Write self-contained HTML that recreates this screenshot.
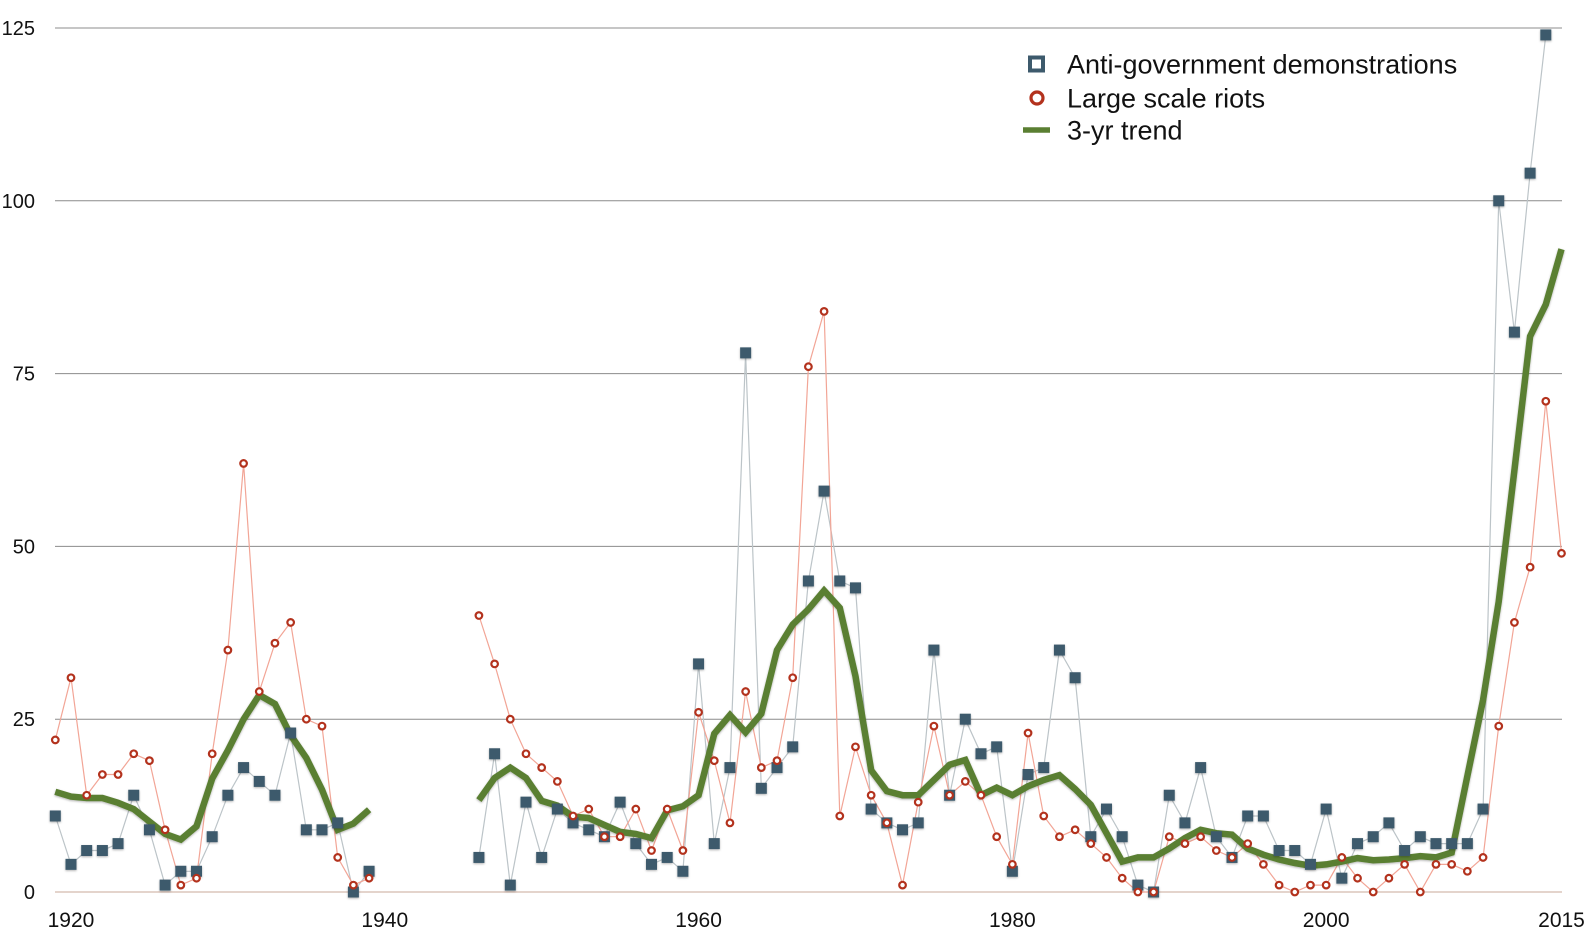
<!DOCTYPE html>
<html><head><meta charset="utf-8"><style>
html,body{margin:0;padding:0;background:#fff;}
svg{display:block;font-family:"Liberation Sans",Arial,sans-serif;}
</style></head><body>
<svg id="chart" width="1590" height="933" viewBox="0 0 1590 933" xmlns="http://www.w3.org/2000/svg">
<defs>
<filter id="sh" x="-50%" y="-50%" width="200%" height="200%"><feDropShadow dx="0" dy="1" stdDeviation="1" flood-color="#000" flood-opacity="0.3"/></filter>
</defs>
<g id="grid"></g>
<g id="ylabels"></g>
<g id="xlabels"></g>
<g id="series"></g>
<g id="legend">
  <g>
    <rect x="1030" y="57.5" width="13" height="13" fill="#fff" stroke="#3d5a6c" stroke-width="4"/>
    <text x="1067" y="73.5" font-size="27" fill="#111">Anti-government demonstrations</text>
  </g>
  <g>
    <circle cx="1037" cy="98" r="6" fill="#fff" stroke="#b3321d" stroke-width="3.2"/>
    <text x="1067" y="107.5" font-size="27" fill="#111">Large scale riots</text>
  </g>
  <g>
    <line x1="1023" y1="130" x2="1050" y2="130" stroke="#5a7f32" stroke-width="5.5"/>
    <text x="1067" y="139.5" font-size="27" fill="#111">3-yr trend</text>
  </g>
</g>
</svg>
<script>
const startYear = 1919;
const demonstrations = [11,4,6,6,7,14,9,1,3,3,8,14,18,16,14,23,9,9,10,0,3,
 null,null,null,null,null,null,
 5,20,1,13,5,12,10,9,8,13,7,4,5,3,33,7,18,78,
 15,18,21,45,58,45,44,12,10,9,
 10,35,14,25,20,21,3,17,18,35,31,8,12,8,1,
 0,14,10,18,8,5,11,11,6,6,4,12,2,7,8,10,6,8,7,7,
 7,12,100,81,104,124,null];
const riots = [22,31,14,17,17,20,19,9,1,2,20,35,62,29,36,39,25,24,5,1,2,
 null,null,null,null,null,null,
 40,33,25,20,18,16,11,12,8,8,12,6,12,6,26,19,10,29,
 18,19,31,76,84,11,21,14,10,1,
 13,24,14,16,14,8,4,23,11,8,9,7,5,2,0,
 0,8,7,8,6,5,7,4,1,0,1,1,5,2,0,2,4,0,4,4,
 3,5,24,39,47,71,49];
const trend = [14.5,13.8,13.6,13.6,12.9,12,10.2,8.4,7.6,9.5,16.4,20.5,25,28.5,27.2,22.7,19.4,14.8,9,9.9,11.9,
 null,null,null,null,null,null,
 13.3,16.5,18,16.5,13.2,12.5,10.9,10.7,9.7,8.7,8.4,7.8,11.8,12.4,14,22.9,25.6,23.1,
 25.8,35,38.7,40.9,43.6,41.1,31.2,17.6,14.6,14,
 14,16.2,18.4,19.1,14,15.1,14,15.3,16.2,16.9,14.9,12.6,8.5,4.4,5,
 5,6.3,7.8,9,8.5,8.3,6.3,5.4,4.7,4.2,3.8,4,4.4,4.9,4.6,4.7,4.9,5.2,5,5.7,
 16.8,27.8,42,61,80.4,85,93];
const yTicks = [0,25,50,75,100,125];
const xTicks = [1920,1940,1960,1980,2000,2015];

const NS = "http://www.w3.org/2000/svg";
const X0 = 55.3, X1 = 1561.5, Y0 = 892, Y1 = 28;
const endYear = startYear + demonstrations.length - 1;
function xs(yr){ return X0 + (yr - startYear) * (X1 - X0) / (endYear - startYear); }
function ys(v){ return Y0 - v * (Y0 - Y1) / 125; }
function mk(tag, attrs, parent){ const e = document.createElementNS(NS, tag); for (const k in attrs) e.setAttribute(k, attrs[k]); parent.appendChild(e); return e; }

const grid = document.getElementById('grid');
const yl = document.getElementById('ylabels');
yTicks.forEach(t => {
  const l = mk('line', {x1:55, x2:1562, y1:ys(t), y2:ys(t), stroke: t===0 ? '#c9a899' : '#8c8c8c', 'stroke-width':1}, grid);
  
  
  const tx = mk('text', {x:35, y:ys(t)+7, 'font-size':20, 'text-anchor':'end', fill:'#111'}, yl);
  tx.textContent = t;
  
  
});
const xl = document.getElementById('xlabels');
xTicks.forEach(t => {
  const tx = mk('text', {x:xs(t), y:927, 'font-size':21, 'text-anchor':'middle', fill:'#111'}, xl);
  tx.textContent = t;
  
  
});

function pathFor(arr){
  let d = '', pen = false;
  arr.forEach((v,i) => {
    if (v === null) { pen = false; return; }
    d += (pen ? 'L' : 'M') + xs(startYear+i).toFixed(1) + ' ' + ys(v).toFixed(1);
    pen = true;
  });
  return d;
}
const s = document.getElementById('series');
const dl = mk('path', {d:pathFor(demonstrations), fill:'none', stroke:'#bcc4c8', 'stroke-width':1.2}, s);


const rl = mk('path', {d:pathFor(riots), fill:'none', stroke:'#f2a596', 'stroke-width':1.2}, s);


const tl = mk('path', {d:pathFor(trend), fill:'none', stroke:'#5a7f32', 'stroke-width':6.5, 'stroke-linejoin':'miter', filter:'url(#sh)'}, s);



demonstrations.forEach((v,i) => {
  if (v === null) return;
  const r = mk('rect', {x:xs(startYear+i)-5.5, y:ys(v)-5.5, width:11, height:11, fill:'#3d5a6c', filter:'url(#sh)'}, s);
  
  
});
riots.forEach((v,i) => {
  if (v === null) return;
  const c = mk('circle', {cx:xs(startYear+i), cy:ys(v), r:3.3, fill:'#fff', stroke:'#b3321d', 'stroke-width':2.2}, s);
  
  
});
</script>
</body></html>
